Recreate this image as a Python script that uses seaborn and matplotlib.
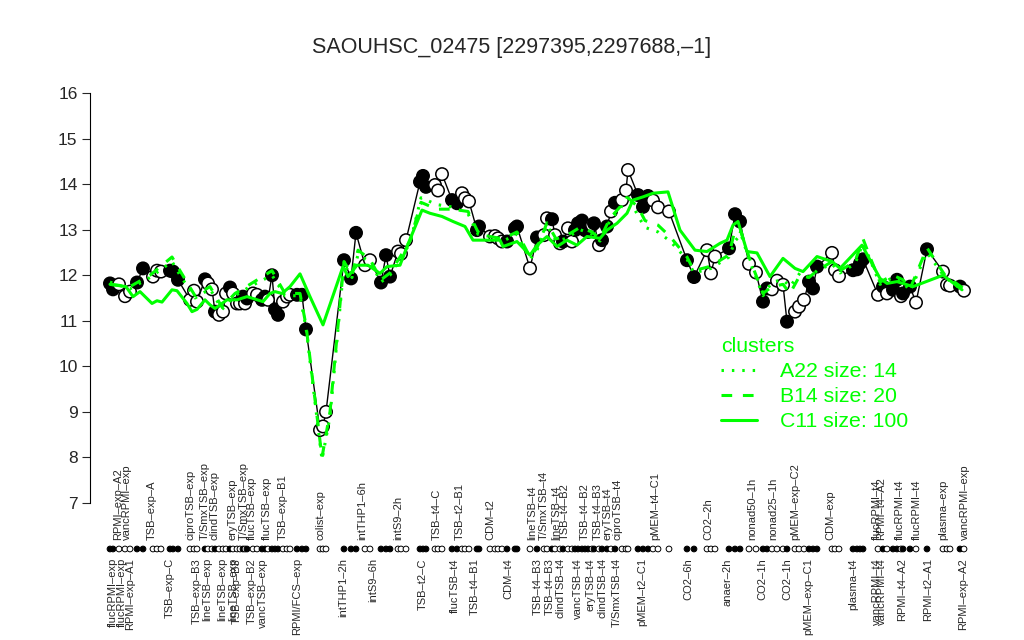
import matplotlib
matplotlib.use("Agg")
import matplotlib.pyplot as plt
from matplotlib.lines import Line2D
import pandas as pd
import seaborn as sns

# ── Data ─────────────────────────────────────────────────────────────────────
# sample position along the condition axis, expression value, filled marker?
pos = [20, 23, 29, 35, 40, 47, 53, 63, 67, 71, 80, 83, 88, 100, 104, 107,
       115, 118, 122, 125, 129, 133, 136, 140, 143, 147, 150, 153, 155, 157,
       163, 167, 172, 175, 178, 182, 185, 188, 193, 197, 200, 207, 212, 216,
       230, 233, 236, 254, 261, 266, 275, 280, 291, 296, 300, 308, 311, 316,
       330, 333, 336, 345, 348, 352, 362, 367, 372, 375, 379, 387, 389, 400,
       405, 408, 412, 417, 425, 427, 440, 447, 454, 457, 462, 465, 470, 473,
       478, 482, 485, 488, 492, 495, 498, 502, 504, 509, 512, 517, 521, 525,
       532, 536, 538, 548, 553, 558, 563, 568, 579, 597, 604, 617, 621, 625,
       639, 645, 650, 659, 666, 673, 677, 682, 687, 693, 697, 705, 709, 714,
       719, 723, 727, 742, 745, 749, 763, 767, 770, 773, 788, 793, 797, 803,
       807, 811, 813, 820, 826, 837, 853, 857, 860, 870, 874]
expr = [11.82, 11.69, 11.80, 11.54, 11.64, 11.84, 12.15, 11.97, 12.10, 12.08,
        12.10, 12.08, 11.90, 11.46, 11.66, 11.42, 11.91, 11.82, 11.69, 11.20,
        11.13, 11.20, 11.60, 11.73, 11.60, 11.38, 11.38, 11.53, 11.38, 11.49,
        11.60, 11.57, 11.46, 11.53, 11.46, 12.00, 11.25, 11.13, 11.42, 11.53,
        11.57, 11.57, 11.57, 10.81, 8.60, 8.68, 9.00, 12.33, 11.93, 12.93,
        12.22, 12.33, 11.84, 12.44, 11.97, 12.52, 12.47, 12.77, 14.05, 14.18,
        13.94, 13.98, 13.86, 14.22, 13.65, 13.58, 13.80, 13.69, 13.62, 12.99,
        13.07, 12.85, 12.86, 12.81, 12.74, 12.74, 13.03, 13.07, 12.15, 12.83,
        12.88, 13.25, 13.23, 12.88, 12.70, 12.74, 13.03, 12.74, 12.99, 13.14,
        13.20, 12.99, 12.95, 13.10, 13.14, 12.66, 12.77, 13.07, 13.40, 13.59,
        13.65, 13.86, 14.31, 13.76, 13.50, 13.74, 13.64, 13.49, 13.40, 12.33,
        11.96, 12.55, 12.04, 12.41, 12.59, 13.34, 13.18, 12.25, 12.06, 11.42,
        11.71, 11.69, 11.88, 11.79, 10.98, 11.20, 11.31, 11.46, 11.86, 11.71,
        12.19, 12.49, 12.11, 11.98, 12.11, 12.13, 12.26, 12.35, 11.57, 11.75,
        11.60, 11.68, 11.90, 11.54, 11.60, 11.75, 11.40, 12.57, 12.08, 11.79,
        11.77, 11.75, 11.66]
filled = [1, 1, 0, 0, 0, 1, 1, 0, 0, 0, 1, 1, 1, 0, 0, 0, 1, 0, 0, 1, 0, 0,
          0, 1, 0, 0, 0, 1, 0, 1, 0, 0, 1, 1, 0, 1, 1, 1, 0, 0, 0, 1, 1, 1,
          0, 0, 0, 1, 1, 1, 0, 0, 1, 1, 1, 0, 0, 0, 1, 1, 1, 0, 0, 0, 1, 1,
          0, 0, 0, 1, 1, 0, 0, 0, 0, 1, 1, 1, 0, 1, 0, 0, 1, 0, 0, 1, 0, 0,
          1, 1, 1, 1, 1, 0, 1, 0, 1, 1, 0, 1, 0, 0, 0, 1, 1, 1, 0, 0, 0, 1,
          1, 0, 0, 0, 1, 1, 1, 0, 0, 1, 1, 0, 0, 0, 1, 0, 0, 0, 1, 1, 1, 0,
          0, 0, 1, 1, 1, 1, 0, 1, 0, 1, 1, 0, 1, 1, 0, 1, 0, 0, 0, 1, 0]

# cluster mean profiles
c11_pos = [20, 36, 43, 50, 62, 67, 72, 82, 87, 97, 102, 107, 115, 120, 125,
           132, 137, 147, 157, 163, 173, 180, 185, 192, 200, 210, 220, 233,
           253, 258, 267, 278, 290, 297, 310, 317, 332, 340, 352, 363, 375,
           383, 393, 410, 413, 427, 440, 447, 457, 467, 477, 487, 497, 510,
           517, 527, 537, 543, 553, 563, 578, 590, 605, 617, 630, 637, 643,
           648, 657, 667, 680, 693, 705, 713, 727, 742, 750, 772, 790, 797,
           807, 823, 853, 872]
c11_val = [11.80, 11.75, 11.53, 11.64, 11.38, 11.44, 11.41, 11.68, 11.66,
           11.38, 11.20, 11.25, 11.46, 11.35, 11.27, 11.38, 11.46, 11.46,
           11.53, 11.49, 11.42, 11.60, 11.64, 11.60, 11.75, 12.03, 11.53,
           10.91, 12.19, 11.97, 12.22, 12.22, 12.04, 12.19, 12.22, 12.63,
           13.43, 13.36, 13.29, 13.18, 13.07, 12.77, 12.77, 12.77, 12.63,
           12.74, 12.44, 12.66, 12.85, 12.63, 12.77, 12.66, 12.85, 12.81,
           12.99, 13.14, 13.36, 13.65, 13.72, 13.80, 13.83, 12.99, 12.55,
           12.52, 12.70, 12.77, 13.10, 13.18, 12.52, 12.49, 11.97, 12.37,
           12.15, 12.08, 12.41, 12.30, 12.15, 12.66, 11.93, 11.82, 11.86,
           11.75, 12.00, 11.68]

b14_pos = [20, 40, 60, 82, 90, 105, 120, 132, 145, 160, 182, 195, 210, 216,
           232, 240, 254, 262, 268, 280, 291, 300, 310, 320, 331, 347, 362,
           378, 388, 400, 413, 427, 440, 447, 457, 466, 475, 490, 502, 510,
           520, 530, 538, 548, 555, 568, 580, 597, 604, 621, 639, 645, 651,
           659, 673, 682, 693, 700, 710, 719, 727, 742, 750, 765, 773, 780,
           790, 803, 813, 820, 837, 855, 874]
b14_val = [11.80, 11.75, 12.00, 12.40, 12.10, 11.55, 11.75, 11.30, 11.60,
           11.80, 12.10, 11.60, 11.60, 10.90, 8.00, 9.00, 12.30, 12.00, 12.55,
           12.35, 11.90, 12.05, 12.40, 12.75, 13.60, 13.45, 13.45, 13.40,
           12.95, 12.85, 12.80, 12.95, 12.40, 12.60, 13.15, 12.80, 12.85,
           13.05, 12.95, 12.80, 13.25, 13.50, 13.70, 13.50, 13.20, 13.10,
           12.85, 12.40, 12.10, 12.20, 12.45, 13.00, 12.95, 12.40, 11.60,
           11.75, 11.80, 11.60, 12.00, 11.95, 12.10, 12.30, 12.10, 12.30,
           12.80, 12.40, 11.85, 12.00, 11.90, 11.70, 12.60, 12.00, 11.70]

a22_pos = [20, 40, 60, 82, 90, 105, 120, 132, 145, 160, 182, 195, 210, 216,
           232, 240, 254, 262, 268, 280, 291, 300, 310, 320, 331, 347, 362,
           378, 388, 400, 413, 427, 440, 447, 457, 466, 475, 490, 502, 510,
           520, 530, 538, 548, 555, 568, 580, 597, 604, 621, 639, 645, 651,
           659, 673, 682, 693, 700, 710, 719, 727, 742, 750, 765, 773, 780,
           790, 803, 813, 820, 837, 855, 874]
a22_val = [11.85, 11.70, 11.95, 12.30, 12.00, 11.50, 11.70, 11.25, 11.55,
           11.75, 12.00, 11.55, 11.55, 10.85, 7.95, 8.90, 12.25, 11.95, 12.45,
           12.30, 11.85, 12.00, 12.35, 12.70, 13.70, 13.55, 13.50, 13.35,
           12.90, 12.85, 12.75, 12.90, 12.35, 12.55, 13.10, 12.75, 12.80,
           13.00, 12.90, 12.75, 13.20, 13.45, 13.75, 13.30, 13.05, 12.95,
           12.75, 12.35, 12.05, 12.15, 12.40, 12.75, 12.90, 12.35, 11.55,
           11.85, 11.90, 11.75, 12.05, 11.95, 12.10, 12.25, 12.05, 12.25,
           12.70, 12.35, 11.80, 11.95, 11.85, 11.65, 12.50, 11.95, 11.65]

top_labels = ["RPMI-exp-A2", "vancRPMI-exp", "TSB-exp-A", "ciproTSB-exp",
              "T/SmxTSB-exp", "clindTSB-exp", "eryTSB-exp", "T/SmxTSB-exp",
              "flucTSB-exp", "flucTSB-exp", "TSB-exp-B1", "colist-exp",
              "intTHP1-6h", "intS9-2h", "TSB-t4-C", "TSB-t2-B1", "CDM-t2",
              "lineTSB-t4", "T/SmxTSB-t4", "lineTSB-t4", "TSB-t4-B2",
              "TSB-t4-B2", "TSB-t4-B3", "eryTSB-t4", "ciproTSB-t4",
              "pMEM-t4-C1", "CO2-2h", "nonad50-1h", "nonad25-1h",
              "pMEM-exp-C2", "CDM-exp", "flucRPMI-t4", "RPMI-t4-A2",
              "flucRPMI-t4", "flucRPMI-t4", "plasma-exp", "vancRPMI-exp"]
top_pos = [28, 37, 62, 100, 115, 125, 143, 154, 162, 177, 193, 230, 272, 308,
           347, 370, 400, 442, 454, 466, 475, 495, 508, 518, 528, 565, 618,
           662, 683, 705, 740, 787, 791, 810, 827, 853, 875]

bottom_labels = ["flucRPMI-exp", "flucRPMI-exp", "RPMI-exp-A1", "TSB-exp-C",
                 "TSB-exp-B3", "lineTSB-exp", "lineTSB-exp", "lineTSB-exp",
                 "TSB-exp-B3", "TSB-exp-B2", "vancTSB-exp", "RPMI/FCS-exp",
                 "intTHP1-2h", "intS9-6h", "TSB-t2-C", "flucTSB-t4",
                 "TSB-t4-B1", "CDM-t4", "TSB-t4-B3", "TSB-t4-B3",
                 "clindTSB-t4", "vancTSB-t4", "eryTSB-t4", "clindTSB-t4",
                 "T/SmxTSB-t4", "pMEM-t2-C1", "CO2-6h", "anaer-2h", "CO2-1h",
                 "CO2-1h", "pMEM-exp-C1", "plasma-t4", "vancRPMI-t4",
                 "vancRPMI-t4", "RPMI-t4-A2", "RPMI-t2-A1", "RPMI-exp-A2"]
bottom_pos = [23, 32, 40, 80, 107, 117, 132, 143, 147, 162, 173, 207, 253,
              283, 333, 365, 385, 418, 448, 460, 470, 488, 500, 513, 527, 552,
              598, 638, 672, 697, 718, 763, 787, 792, 812, 838, 873]

cluster_names = ["A22 size: 14", "B14 size: 20", "C11 size: 100"]

GREEN = "#00FF00"
DASH = lambda s: s.replace("-", "\u2013")

df = pd.DataFrame({"pos": pos, "expr": expr, "filled": filled})

# ── Plot ─────────────────────────────────────────────────────────────────────
sns.set_theme(style="white")
plt.rcParams["font.family"] = ["Liberation Sans", "DejaVu Sans"]

fig = plt.figure(figsize=(10.24, 6.4), dpi=100)
ax = fig.add_axes([90 / 1024, 1 - 521.2 / 640, 895 / 1024, 446.4 / 640])

sns.lineplot(data=df, x="pos", y="expr", sort=False, estimator=None,
             color="black", lw=1, ax=ax, zorder=2)
sns.scatterplot(data=df, x="pos", y="expr", hue="filled",
                palette={1: "black", 0: "white"}, edgecolor="black",
                s=80, linewidth=1.1, legend=False, ax=ax, zorder=3)

line_styles = [(0, (0.8, 2.6)), (0, (3.5, 3.5)), "-"]
for (xs, ys), ls in zip([(a22_pos, a22_val), (b14_pos, b14_val), (c11_pos, c11_val)],
                        line_styles):
    sns.lineplot(x=xs, y=ys, sort=False, estimator=None, color=GREEN, lw=2.2,
                 linestyle=ls, ax=ax, zorder=4)

# sample strip under the plot
strip_y = 5.99
sns.scatterplot(x=df["pos"], y=[strip_y] * len(df), hue=df["filled"],
                palette={1: "black", 0: "white"}, edgecolor="black", s=17,
                linewidth=0.7, legend=False, ax=ax, clip_on=False, zorder=3)

for lab, p in zip(top_labels, top_pos):
    ax.text(p, 6.19, DASH(lab), rotation=90, ha="center", va="bottom",
            fontsize=8, clip_on=False)
for lab, p in zip(bottom_labels, bottom_pos):
    ax.text(p, 5.79, DASH(lab), rotation=90, ha="center", va="top",
            fontsize=8, clip_on=False)

ax.set_xlim(0, 895)
ax.set_ylim(6.6, 16.4)
ax.set_xticks([])
ax.set_yticks(range(7, 17))
ax.tick_params(axis="y", left=True, direction="out", length=6, width=0.8,
               labelsize=12.5, pad=3)
ax.set_xlabel("")
ax.set_ylabel("")
for side in ["top", "right", "bottom"]:
    ax.spines[side].set_visible(False)
ax.spines["left"].set_bounds(7, 16)
ax.spines["left"].set_linewidth(0.8)
ax.spines["left"].set_color("black")

handles = [Line2D([], [], color=GREEN, lw=2.2, linestyle=ls) for ls in line_styles]
leg = ax.legend(handles, cluster_names, title="clusters", loc="upper left",
                bbox_to_anchor=(702 / 1024, 1 - 318 / 640),
                bbox_transform=fig.transFigure, frameon=False, fontsize=15.3,
                title_fontsize=15.3, labelcolor=GREEN, handlelength=1.7,
                handletextpad=1.05, labelspacing=0.28, alignment="left")
leg.get_title().set_color(GREEN)

fig.text(0.5, 1 - 47 / 640, DASH("SAOUHSC_02475 [2297395,2297688,-1]"),
         ha="center", va="center", fontsize=15.5)

fig.savefig("out.png", dpi=100)
